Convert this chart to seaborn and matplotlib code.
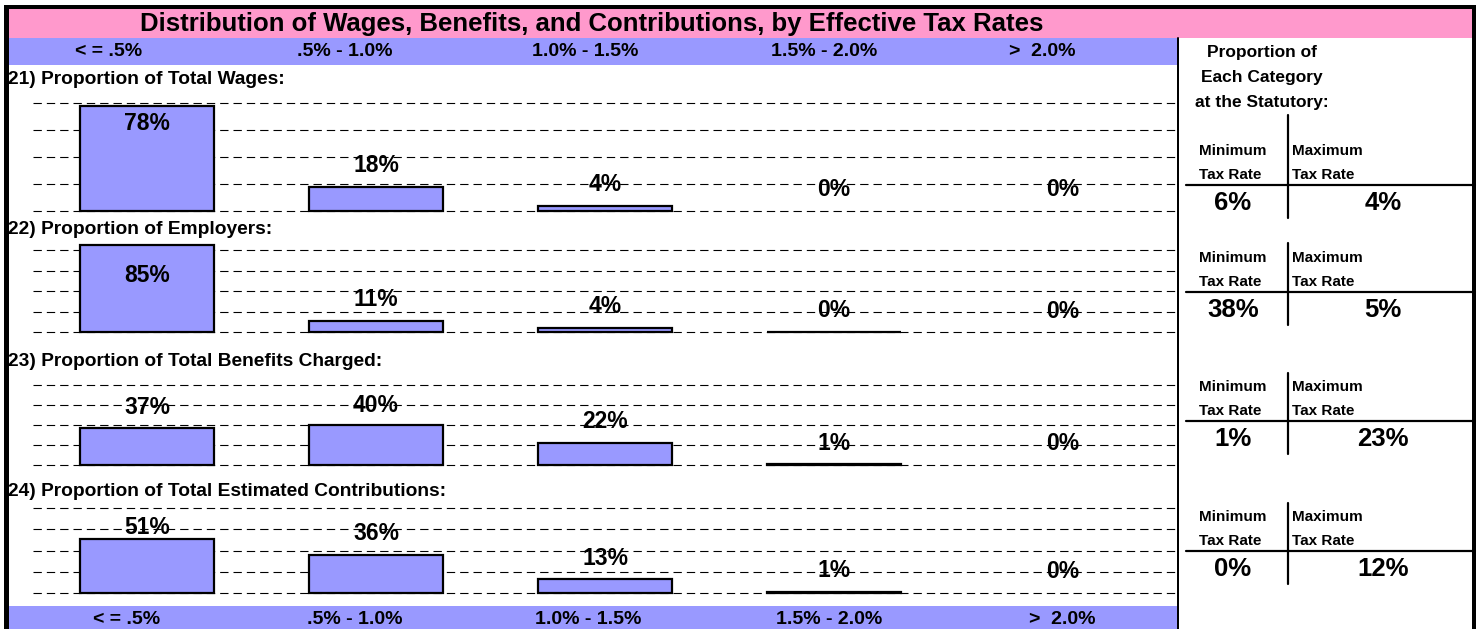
import matplotlib
matplotlib.use("Agg")
import matplotlib.pyplot as plt
import seaborn as sns
import pandas as pd
from matplotlib.patches import Rectangle
from matplotlib.lines import Line2D

# ---------------- data ----------------
categories = ["< = .5%", ".5% - 1.0%", "1.0% - 1.5%", "1.5% - 2.0%", ">  2.0%"]
panel_titles = ["21) Proportion of Total Wages:",
                "22) Proportion of Employers:",
                "23) Proportion of Total Benefits Charged:",
                "24) Proportion of Total Estimated Contributions:"]
wages = [0.78, 0.18, 0.04, 0.0, 0.0]
employers = [0.85, 0.11, 0.04, 0.003, 0.0]
benefits = [0.37, 0.40, 0.22, 0.01, 0.0]
contributions = [0.51, 0.36, 0.13, 0.01, 0.0]
min_rate_share = [0.06, 0.38, 0.01, 0.00]
max_rate_share = [0.04, 0.05, 0.23, 0.12]
title = "Distribution of Wages, Benefits, and Contributions, by Effective Tax Rates"
side_title = ["Proportion of", "Each Category", "at the Statutory:"]
side_headers = [("Minimum", "Tax Rate"), ("Maximum", "Tax Rate")]

# ---------------- style ----------------
W, H = 1480, 629
sns.set_theme(style="white")
plt.rcParams['font.family'] = ['Liberation Sans', 'DejaVu Sans']
plt.rcParams['font.weight'] = 'bold'
plt.rcParams['text.color'] = 'black'
plt.rcParams['lines.scale_dashes'] = False
PINK = "#FF99CC"
BLUE = "#9999FF"

fig = plt.figure(figsize=(W / 100, H / 100), dpi=100)
fig.patch.set_facecolor("white")


def fx(px):
    return px / W


def fy(py):
    return 1 - py / H


def rect(x0, y0, x1, y1, color, z=0):
    fig.patches.append(Rectangle((fx(x0), fy(y1)), fx(x1) - fx(x0), fy(y0) - fy(y1),
                                 transform=fig.transFigure, facecolor=color,
                                 edgecolor='none', zorder=z))


def hline(x0, x1, y, lw=2.0):
    fig.add_artist(Line2D([fx(x0), fx(x1)], [fy(y), fy(y)], color='black', lw=lw * 0.72,
                          transform=fig.transFigure, zorder=5))


def vline(x, y0, y1, lw=2.0):
    fig.add_artist(Line2D([fx(x), fx(x)], [fy(y0), fy(y1)], color='black', lw=lw * 0.72,
                          transform=fig.transFigure, zorder=5))


# bands
rect(8, 9, 1473, 38, PINK)
rect(8, 38, 1178, 65, BLUE)
rect(8, 606, 1178, 629, BLUE)
# frame
rect(4, 5, 9, 629, 'black', 6)
rect(4, 5, 1476, 9, 'black', 6)
rect(1472, 5, 1476, 629, 'black', 6)
vline(1178, 38, 629, 2.0)

fig.text(fx(592), fy(24), title, ha='center', va='center', fontsize=18.5,
         fontweight='bold', color='black')

top_x = [109, 345, 585, 824, 1042]
bot_x = [127, 355, 588, 829, 1062]
for c, xt, xb in zip(categories, top_x, bot_x):
    fig.text(fx(xt), fy(52), c, ha='center', va='center', fontsize=14, fontweight='bold')
    fig.text(fx(xb), fy(619), c, ha='center', va='center', fontsize=14, fontweight='bold')

# ---------------- bar panels ----------------
panel_values = [wages, employers, benefits, contributions]
# (label y, zero-line y, 0.8-line y) in pixels
panel_geom = [(80, 211, 103), (230, 332, 250), (361, 465, 385), (492, 593, 508)]
grid_levels = [0.0, 0.2, 0.4, 0.6, 0.8]

for ptitle, vals, (ly, zero, top) in zip(panel_titles, panel_values, panel_geom):
    fig.text(fx(8), fy(ly), ptitle, ha='left', va='center', fontsize=13.8, fontweight='bold')
    scale = (zero - top) / 0.8  # px per unit
    hpx = scale * 0.9
    ax = fig.add_axes([fx(32.5), fy(zero), fx(1145), hpx / H])
    df = pd.DataFrame({"category": categories, "share": vals})
    sns.barplot(data=df, x="category", y="share", color=BLUE, saturation=1,
                edgecolor="black", linewidth=1.6, width=0.585, ax=ax)
    ax.set_xlim(-0.5, 4.5)
    ax.set_ylim(0, 0.9)
    ax.axis('off')
    for g in grid_levels:
        ax.axhline(g, color='black', lw=0.8, dashes=(6, 3.6), zorder=0.5, clip_on=False)
    for p, v in zip(ax.patches, vals):
        p.set_zorder(2)
        p.set_clip_on(False)
        if v == 0:
            p.set_linewidth(0)
    for i, v in enumerate(vals):
        if v >= 0.8:
            yl = v - 31 / scale
        else:
            yl = min(v + 21 / scale, 0.8 - 20 / scale)
        ax.text(i, yl, f"{v:.0%}", ha='center', va='center', fontsize=16.5,
                fontweight='bold', color='black', zorder=4)

# ---------------- side panel ----------------
for i, s in enumerate(side_title):
    fig.text(fx(1262), fy(53 + i * 24.5), s, ha='center', va='center', fontsize=12.5, fontweight='bold')

hline_ys = [185, 292, 421, 551]
vtop_ys = [115, 243, 373, 503]
for mn, mx, hy, vt in zip(min_rate_share, max_rate_share, hline_ys, vtop_ys):
    hline(1186, 1475, hy, 2.2)
    vline(1288, vt, hy + 33, 2.2)
    fig.text(fx(1199), fy(hy - 34), side_headers[0][0], ha='left', va='center', fontsize=11, fontweight='bold')
    fig.text(fx(1199), fy(hy - 10), side_headers[0][1], ha='left', va='center', fontsize=11, fontweight='bold')
    fig.text(fx(1292), fy(hy - 34), side_headers[1][0], ha='left', va='center', fontsize=11, fontweight='bold')
    fig.text(fx(1292), fy(hy - 10), side_headers[1][1], ha='left', va='center', fontsize=11, fontweight='bold')
    fig.text(fx(1233), fy(hy + 18), f"{mn:.0%}", ha='center', va='center', fontsize=18.5, fontweight='bold')
    fig.text(fx(1383), fy(hy + 18), f"{mx:.0%}", ha='center', va='center', fontsize=18.5, fontweight='bold')

fig.savefig("out.png", dpi=100)
